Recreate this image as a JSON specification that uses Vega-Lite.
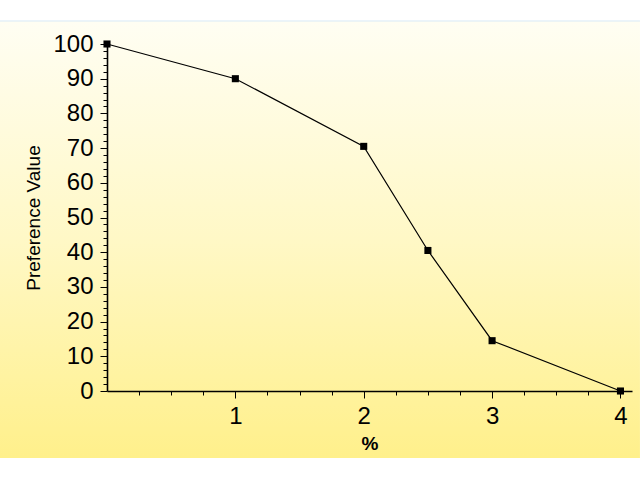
{
  "$schema": "https://vega.github.io/schema/vega-lite/v6.json",
  "width": 525,
  "height": 347,
  "autosize": "none",
  "padding": {"left": 107, "top": 44, "right": 8, "bottom": 89},
  "background": "white",
  "config": {
    "view": {"stroke": null},
    "font": "Liberation Sans",
    "axis": {
      "labelOverlap": false,
      "labelFlush": false,
      "labelFont": "Liberation Sans",
      "labelFontSize": 24,
      "labelColor": "black",
      "tickColor": "black",
      "tickWidth": 1,
      "domainColor": "black",
      "domainWidth": 1.6,
      "grid": false,
      "titleFont": "Liberation Sans",
      "titleColor": "black"
    },
    "axisX": {"labelPadding": 6, "titleFontSize": 19, "titleFontWeight": "bold", "titlePadding": 6},
    "axisY": {"labelPadding": 7, "titleFontSize": 19, "titleFontWeight": "normal", "titlePadding": 9}
  },
  "layer": [
    {
      "data": {"values": [{"band": "background"}]},
      "mark": {
        "type": "rect",
        "clip": false,
        "color": {
          "gradient": "linear",
          "x1": 0, "y1": 0, "x2": 0, "y2": 1,
          "stops": [
            {"offset": 0, "color": "#FFFEF3"},
            {"offset": 0.5, "color": "#FFF8C6"},
            {"offset": 1, "color": "#FFF08B"}
          ]
        }
      },
      "encoding": {
        "x": {"datum": -0.8336, "type": "quantitative", "scale": {"domain": [0, 4.09], "nice": false},
          "axis": {"zindex": 1, "title": "%", "values": [0.25, 0.5, 0.75, 1, 1.25, 1.5, 1.75, 2, 2.25, 2.5, 2.75, 3, 3.25, 3.5, 3.75, 4], "labelExpr": "datum.value % 1 === 0 ? format(datum.value, 'd') : ''", "tickSize": {"condition": {"test": "datum.value % 1 === 0", "value": 7}, "value": 4}}},
        "x2": {"datum": 4.152},
        "y": {"datum": 106.63, "type": "quantitative", "scale": {"domain": [0, 100], "nice": false},
          "axis": {"zindex": 1, "title": "Preference Value", "values": [0, 2, 4, 6, 8, 10, 12, 14, 16, 18, 20, 22, 24, 26, 28, 30, 32, 34, 36, 38, 40, 42, 44, 46, 48, 50, 52, 54, 56, 58, 60, 62, 64, 66, 68, 70, 72, 74, 76, 78, 80, 82, 84, 86, 88, 90, 92, 94, 96, 98, 100], "labelExpr": "datum.value % 10 === 0 ? datum.label : ''", "tickSize": {"condition": {"test": "datum.value % 10 === 0", "value": 7}, "value": 4}}},
        "y2": {"datum": -19.31}
      }
    },
    {
      "data": {"values": [{"band": "edge"}]},
      "mark": {"type": "rule", "clip": false, "color": "#D9EAF6", "strokeWidth": 1},
      "encoding": {
        "x": {"datum": -0.8336, "type": "quantitative", "scale": {"domain": [0, 4.09], "nice": false},
          "axis": {"zindex": 1, "title": "%", "values": [0.25, 0.5, 0.75, 1, 1.25, 1.5, 1.75, 2, 2.25, 2.5, 2.75, 3, 3.25, 3.5, 3.75, 4], "labelExpr": "datum.value % 1 === 0 ? format(datum.value, 'd') : ''", "tickSize": {"condition": {"test": "datum.value % 1 === 0", "value": 7}, "value": 4}}},
        "x2": {"datum": 4.152},
        "y": {"datum": 106.63, "type": "quantitative", "scale": {"domain": [0, 100], "nice": false},
          "axis": {"zindex": 1, "title": "Preference Value", "values": [0, 2, 4, 6, 8, 10, 12, 14, 16, 18, 20, 22, 24, 26, 28, 30, 32, 34, 36, 38, 40, 42, 44, 46, 48, 50, 52, 54, 56, 58, 60, 62, 64, 66, 68, 70, 72, 74, 76, 78, 80, 82, 84, 86, 88, 90, 92, 94, 96, 98, 100], "labelExpr": "datum.value % 10 === 0 ? datum.label : ''", "tickSize": {"condition": {"test": "datum.value % 10 === 0", "value": 7}, "value": 4}}}
      }
    },
    {
      "data": {
        "values": [
          {"pct": 0, "pref": 100},
          {"pct": 1, "pref": 90},
          {"pct": 2, "pref": 70.5},
          {"pct": 2.5, "pref": 40.5},
          {"pct": 3, "pref": 14.5},
          {"pct": 4, "pref": 0}
        ]
      },
      "mark": {"type": "line", "color": "black", "strokeWidth": 1.2, "clip": false},
      "encoding": {
        "x": {"field": "pct", "type": "quantitative", "scale": {"domain": [0, 4.09], "nice": false},
          "axis": {"zindex": 1, "title": "%", "values": [0.25, 0.5, 0.75, 1, 1.25, 1.5, 1.75, 2, 2.25, 2.5, 2.75, 3, 3.25, 3.5, 3.75, 4], "labelExpr": "datum.value % 1 === 0 ? format(datum.value, 'd') : ''", "tickSize": {"condition": {"test": "datum.value % 1 === 0", "value": 7}, "value": 4}}},
        "y": {"field": "pref", "type": "quantitative", "scale": {"domain": [0, 100], "nice": false},
          "axis": {"zindex": 1, "title": "Preference Value", "values": [0, 2, 4, 6, 8, 10, 12, 14, 16, 18, 20, 22, 24, 26, 28, 30, 32, 34, 36, 38, 40, 42, 44, 46, 48, 50, 52, 54, 56, 58, 60, 62, 64, 66, 68, 70, 72, 74, 76, 78, 80, 82, 84, 86, 88, 90, 92, 94, 96, 98, 100], "labelExpr": "datum.value % 10 === 0 ? datum.label : ''", "tickSize": {"condition": {"test": "datum.value % 10 === 0", "value": 7}, "value": 4}}}
      }
    },
    {
      "data": {
        "values": [
          {"pct": 0, "pref": 100},
          {"pct": 1, "pref": 90},
          {"pct": 2, "pref": 70.5},
          {"pct": 2.5, "pref": 40.5},
          {"pct": 3, "pref": 14.5},
          {"pct": 4, "pref": 0}
        ]
      },
      "mark": {"type": "square", "color": "black", "filled": true, "opacity": 1, "size": 50, "clip": false},
      "encoding": {
        "x": {"field": "pct", "type": "quantitative", "scale": {"domain": [0, 4.09], "nice": false},
          "axis": {"zindex": 1, "title": "%", "values": [0.25, 0.5, 0.75, 1, 1.25, 1.5, 1.75, 2, 2.25, 2.5, 2.75, 3, 3.25, 3.5, 3.75, 4], "labelExpr": "datum.value % 1 === 0 ? format(datum.value, 'd') : ''", "tickSize": {"condition": {"test": "datum.value % 1 === 0", "value": 7}, "value": 4}}},
        "y": {"field": "pref", "type": "quantitative", "scale": {"domain": [0, 100], "nice": false},
          "axis": {"zindex": 1, "title": "Preference Value", "values": [0, 2, 4, 6, 8, 10, 12, 14, 16, 18, 20, 22, 24, 26, 28, 30, 32, 34, 36, 38, 40, 42, 44, 46, 48, 50, 52, 54, 56, 58, 60, 62, 64, 66, 68, 70, 72, 74, 76, 78, 80, 82, 84, 86, 88, 90, 92, 94, 96, 98, 100], "labelExpr": "datum.value % 10 === 0 ? datum.label : ''", "tickSize": {"condition": {"test": "datum.value % 10 === 0", "value": 7}, "value": 4}}}
      }
    }
  ]
}
